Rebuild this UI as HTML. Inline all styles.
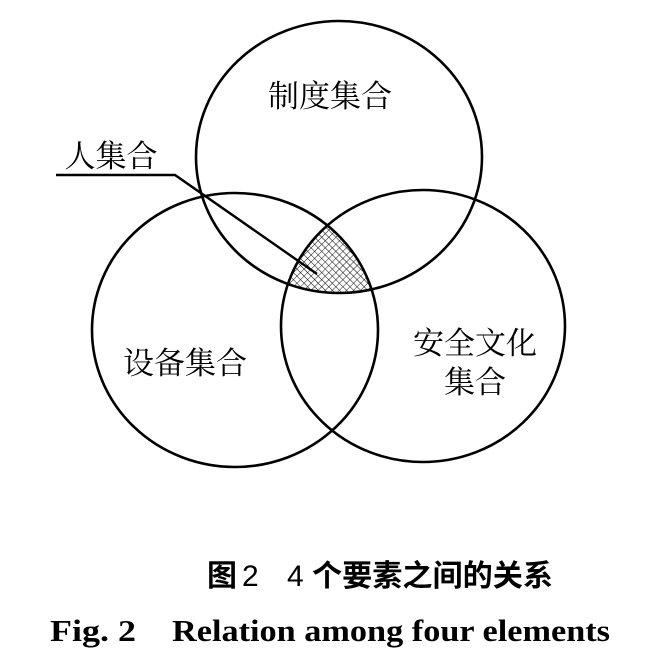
<!DOCTYPE html>
<html><head><meta charset="utf-8"><style>
html,body{margin:0;padding:0;background:#fff;}
svg{display:block;}
</style></head><body>
<svg width="672" height="657" viewBox="0 0 672 657" xmlns="http://www.w3.org/2000/svg">
<defs>
<pattern id="hatch" width="5" height="5" patternUnits="userSpaceOnUse" patternTransform="rotate(45)">
<rect width="5" height="5" fill="#fff"/>
<path d="M0 0H5M0 0V5" stroke="#000" stroke-width="0.9"/>
</pattern>
<clipPath id="c1"><ellipse cx="339" cy="157" rx="143" ry="136"/></clipPath>
<clipPath id="c2"><ellipse cx="235" cy="330" rx="143" ry="137"/></clipPath>
</defs>
<g clip-path="url(#c1)"><g clip-path="url(#c2)">
<ellipse cx="423" cy="326" rx="142" ry="136" fill="url(#hatch)"/>
</g></g>
<g fill="none" stroke="#000" stroke-width="2.6">
<ellipse cx="339" cy="157" rx="143" ry="136"/>
<ellipse cx="235" cy="330" rx="143" ry="137"/>
<ellipse cx="423" cy="326" rx="142" ry="136"/>
<polyline points="56,175 175,175 317,274" stroke-width="2.4"/>
</g>
<g font-family="'Liberation Serif','Noto Serif CJK SC',serif" font-size="31" fill="#000" text-anchor="middle">
<text x="330" y="107">制度集合</text>
<text x="111" y="167">人集合</text>
<text x="185" y="374">设备集合</text>
<text x="475" y="354">安全文化</text>
<text x="475" y="393">集合</text>
</g>
<g font-family="'Liberation Sans','Noto Sans CJK SC',sans-serif" font-weight="bold" font-size="30">
<text x="207" y="586">图</text>
<text x="242" y="586" font-family="'Liberation Sans',sans-serif" font-weight="normal">2</text>
<text x="287" y="586" font-family="'Liberation Sans',sans-serif" font-weight="normal">4</text>
<text x="312" y="586" textLength="241" lengthAdjust="spacingAndGlyphs">个要素之间的关系</text>
</g>
<g font-family="'Liberation Serif',serif" font-weight="bold" font-size="31">
<text x="50" y="641" textLength="86" lengthAdjust="spacingAndGlyphs">Fig. 2</text>
<text x="172" y="641" textLength="438" lengthAdjust="spacingAndGlyphs">Relation among four elements</text>
</g>
</svg>
</body></html>
